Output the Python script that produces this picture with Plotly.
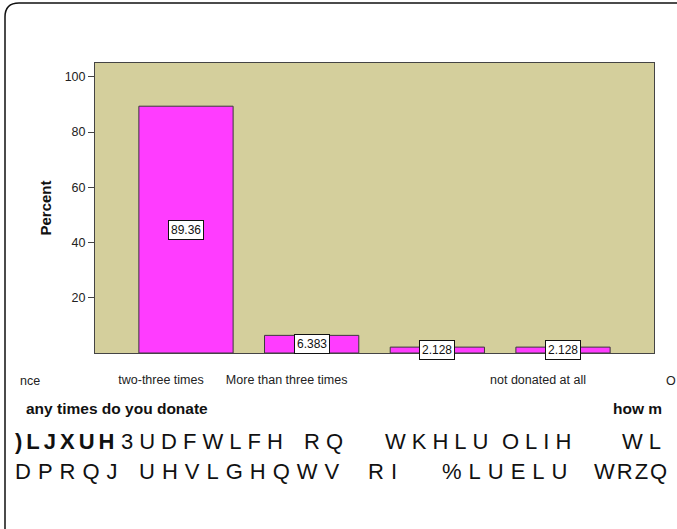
import plotly.graph_objects as go

# ---- data ----
categories = ["two-three times", "More than three times", "", "not donated at all"]
percent = [89.36, 6.383, 2.128, 2.128]
value_labels = ["89.36", "6.383", "2.128", "2.128"]
y_ticks = [20, 40, 60, 80, 100]
caption_line1_words = [")LJXUH", "3UDFWLFH", "RQ", "WKHLU", "OLIH", "WL"]
caption_line2_words = ["DPRQJ", "UHVLGHQWV", "RI", "%LUELU", "WRZQ"]

W, H = 677, 529
L, R, T, B = 95, 23, 63, 176
PW, PH = W - L - R, H - T - B

def px(x):
    return (x - L) / PW

def py(y):
    return 1 - (y - T) / PH

xpos = list(range(1, len(categories) + 1))
FONT = "Liberation Sans, Arial, sans-serif"

fig = go.Figure()
fig.add_trace(go.Bar(
    x=xpos, y=percent,
    marker=dict(color="#FF3CFF", line=dict(color="#3a3a3a", width=1)),
    width=0.75,
    hoverinfo="skip",
))

# value label boxes
for xv, v, lab in zip(xpos, percent, value_labels):
    fig.add_annotation(x=xv, y=v / 2, text=lab, showarrow=False,
                       font=dict(family=FONT, size=12, color="#111"),
                       bgcolor="white", bordercolor="#111", borderwidth=1,
                       borderpad=2)

fig.update_layout(
    width=W, height=H,
    margin=dict(l=L, r=R, t=T, b=B),
    paper_bgcolor="white",
    plot_bgcolor="#D4CF9C",
    showlegend=False,
    font=dict(family=FONT, size=12, color="#222"),
    xaxis=dict(
        range=[0.276, 4.724], tickvals=xpos, ticktext=categories,
        showgrid=False, zeroline=False, ticks="",
        showline=True, linecolor="#444", linewidth=1, mirror=True,
        ticklabelshift=-25, ticklabelstandoff=15,
        tickfont=dict(family=FONT, size=12.5, color="#222"),
    ),
    yaxis=dict(
        range=[0, 105], tickvals=y_ticks, showgrid=False, zeroline=False,
        ticks="outside", ticklen=6, tickcolor="#444",
        showline=True, linecolor="#444", linewidth=1, mirror=True,
        tickfont=dict(family=FONT, size=12.5, color="#222"),
        title=dict(text="<b>Percent</b>", standoff=9,
                   font=dict(family=FONT, size=15, color="#111")),
    ),
)

# axis title fragments
fig.add_annotation(xref="paper", yref="paper", x=px(24), y=py(408),
                   xanchor="left", yanchor="middle", showarrow=False,
                   text="<b>any times do you donate</b>",
                   font=dict(family=FONT, size=15.5, color="#111"))
fig.add_annotation(xref="paper", yref="paper", x=px(611), y=py(408),
                   xanchor="left", yanchor="middle", showarrow=False,
                   text="<b>how m</b>",
                   font=dict(family=FONT, size=15.5, color="#111"))
fig.add_annotation(xref="paper", yref="paper", x=px(18), y=py(381),
                   xanchor="left", yanchor="middle", showarrow=False,
                   text="nce", font=dict(family=FONT, size=12.5, color="#222"))
fig.add_annotation(xref="paper", yref="paper", x=px(664), y=py(381),
                   xanchor="left", yanchor="middle", showarrow=False,
                   text="O", font=dict(family=FONT, size=12.5, color="#222"))

# caption, word by word
line1_x = [13, 119, 302, 383, 500, 620]
line1_ls = [4, 6, 6, 6, 6, 6]
line2_x = [13, 137, 366, 440, 592]
line2_ls = [7, 7, 7, 7, 2]
for i, (word, xw, ls) in enumerate(zip(caption_line1_words, line1_x, line1_ls)):
    txt = f"<b>{word}</b>" if i == 0 else word
    fig.add_annotation(xref="paper", yref="paper", x=px(xw), y=py(441),
                       xanchor="left", yanchor="middle", showarrow=False,
                       text=f"<span style='letter-spacing:{ls}px'>{txt}</span>",
                       font=dict(family=FONT, size=22, color="#111"))
for word, xw, ls in zip(caption_line2_words, line2_x, line2_ls):
    fig.add_annotation(xref="paper", yref="paper", x=px(xw), y=py(471),
                       xanchor="left", yanchor="middle", showarrow=False,
                       text=f"<span style='letter-spacing:{ls}px'>{word}</span>",
                       font=dict(family=FONT, size=22, color="#111"))

# outer rounded frame
x0, y0, r = px(5), py(3), 14
path = (f"M {x0},{py(540)} L {x0},{py(3 + r)} "
        f"Q {x0},{y0} {px(5 + r)},{y0} L {px(700)},{y0}")
fig.add_shape(type="path", xref="paper", yref="paper", path=path,
              line=dict(color="#111", width=1.5))

fig.write_html("out.html", config={"displayModeBar": False},
               post_script="document.body.style.margin='0';document.body.style.overflow='hidden';")
